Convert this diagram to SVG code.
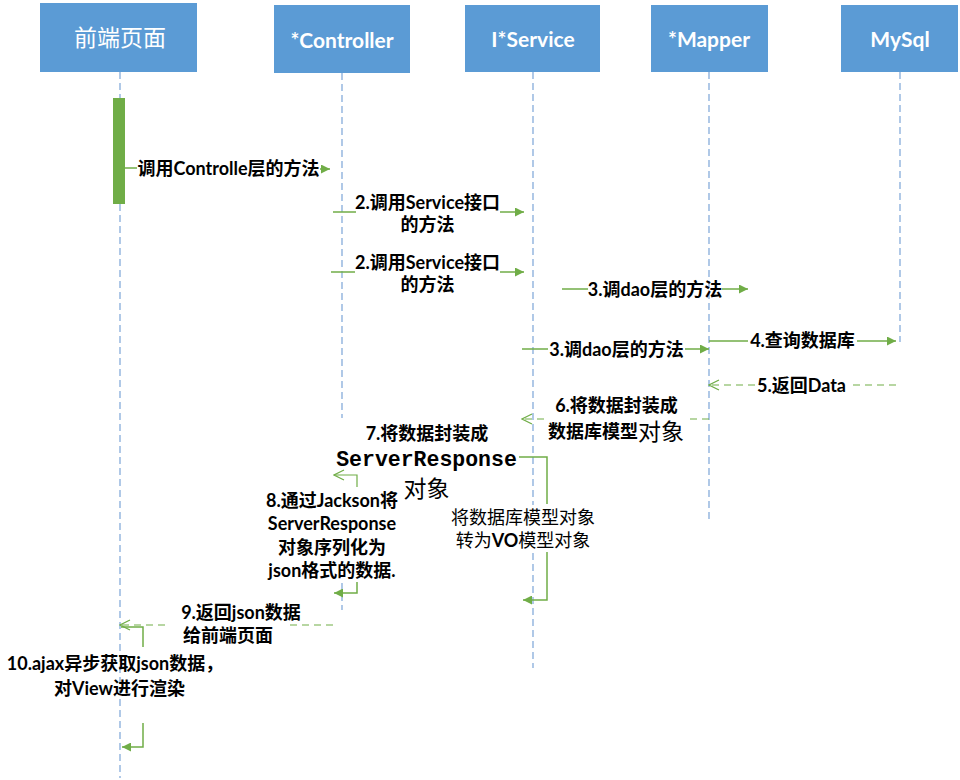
<svg xmlns="http://www.w3.org/2000/svg" width="960" height="780" viewBox="0 0 960 780">
<style>
.box{fill:#5b9bd5;}
.hdr{font-family:"Lato","Noto Sans CJK SC",sans-serif;font-size:21px;font-weight:bold;fill:#ffffff;text-anchor:middle;dominant-baseline:central;}
.life{stroke:#86acdb;stroke-width:1.3;stroke-dasharray:7 4;fill:none;}
.msg{stroke:#70ad47;stroke-width:1.5;fill:none;}
.ret{stroke:#70ad47;stroke-width:1.2;fill:none;stroke-dasharray:7 5;}
.lbl{font-family:"Lato","Noto Sans CJK SC",sans-serif;font-weight:bold;font-size:18px;fill:#000;text-anchor:middle;dominant-baseline:central;}
.big{font-weight:normal;font-size:23px;}
.reg{font-weight:normal;}
.mono{font-family:"Liberation Mono","DejaVu Sans Mono",monospace;font-weight:bold;font-size:21.5px;}
</style>
<defs>
<marker id="fa" viewBox="0 0 10 10" refX="10" refY="5" markerWidth="11" markerHeight="9" markerUnits="userSpaceOnUse" orient="auto">
<path d="M0,0 L10,5 L0,10 z" fill="#70ad47"/>
</marker>
<marker id="oa" viewBox="0 0 12 12" refX="11" refY="6" markerWidth="12" markerHeight="12" markerUnits="userSpaceOnUse" orient="auto">
<path d="M1,1 L11,6 L1,11" fill="none" stroke="#70ad47" stroke-width="1.2"/>
</marker>
</defs>
<rect width="960" height="780" fill="#ffffff"/>

<g id="frontend">
<rect class="box" x="40" y="3" width="157" height="69"/>
<text class="hdr" x="120" y="37" style="font-size:23px;font-weight:normal">前端页面</text>
</g>
<g id="controller">
<rect class="box" x="274" y="5" width="136" height="68"/>
<text class="hdr" x="342" y="39">*Controller</text>
</g>
<g id="service">
<rect class="box" x="465" y="5" width="135" height="67"/>
<text class="hdr" x="533" y="38">I*Service</text>
</g>
<g id="mapper">
<rect class="box" x="651" y="5" width="117" height="67"/>
<text class="hdr" x="709" y="38">*Mapper</text>
</g>
<g id="mysql">
<rect class="box" x="841" y="5" width="117" height="67"/>
<text class="hdr" x="900" y="38">MySql</text>
</g>

<g id="lifelines">
<line class="life" x1="120" y1="72" x2="120" y2="778"/>
<line class="life" x1="342" y1="73" x2="342" y2="418"/>
<line class="life" x1="342" y1="583" x2="342" y2="610"/>
<line class="life" x1="533" y1="72" x2="533" y2="505"/>
<line class="life" x1="533" y1="553" x2="533" y2="668"/>
<line class="life" x1="709" y1="72" x2="709" y2="520"/>
<line class="life" x1="900" y1="72" x2="900" y2="342"/>
</g>

<g id="activation">
<rect x="113" y="98" width="12" height="106" fill="#70ad47"/>
</g>

<g id="connectors">
<line class="msg" x1="125" y1="168" x2="137" y2="168"/>
<line class="msg" x1="320" y1="169" x2="330" y2="169" marker-end="url(#fa)"/>
<line class="msg" x1="333" y1="212" x2="356" y2="212"/>
<line class="msg" x1="500" y1="212" x2="524" y2="212" marker-end="url(#fa)"/>
<line class="msg" x1="331" y1="272" x2="355" y2="272"/>
<line class="msg" x1="500" y1="272" x2="524" y2="272" marker-end="url(#fa)"/>
<line class="msg" x1="562" y1="289" x2="588" y2="289"/>
<line class="msg" x1="722" y1="289" x2="748" y2="289" marker-end="url(#fa)"/>
<line class="msg" x1="522" y1="349" x2="548" y2="349"/>
<line class="msg" x1="685" y1="349" x2="709" y2="349" marker-end="url(#fa)"/>
<line class="msg" x1="709" y1="341" x2="748" y2="341"/>
<line class="msg" x1="857" y1="341" x2="896" y2="341" marker-end="url(#fa)"/>
<line class="ret" x1="896" y1="385" x2="848" y2="385"/>
<line class="ret" x1="755" y1="385" x2="709" y2="385" marker-end="url(#oa)"/>
<line class="ret" x1="709" y1="419" x2="690" y2="419"/>
<line class="ret" x1="544" y1="419" x2="522" y2="419" marker-end="url(#oa)"/>
<polyline class="msg" style="stroke-width:1.2" points="357,487 357,475 334,475" marker-end="url(#oa)"/>
<polyline class="msg" points="519,457 547,457 547,504"/>
<polyline class="msg" points="547,552 547,600 523,600" marker-end="url(#fa)"/>
<polyline class="msg" points="357,582 357,593 334,593" marker-end="url(#fa)"/>
<line class="ret" x1="333" y1="625" x2="288" y2="625"/>
<line class="ret" x1="165" y1="625" x2="120" y2="625" marker-end="url(#oa)"/>
<polyline class="msg" points="121,627 143,627 143,647"/>
<polyline class="msg" points="143,723 143,747 122,747" marker-end="url(#fa)"/>
</g>

<g id="labels">
<text class="lbl" x="228.5" y="168">调用Controlle层的方法</text>
<text class="lbl" x="427.5" y="201.5">2.调用Service接口</text>
<text class="lbl" x="427.5" y="223.5">的方法</text>
<text class="lbl" x="427.5" y="261.5">2.调用Service接口</text>
<text class="lbl" x="427.5" y="284">的方法</text>
<text class="lbl" x="655" y="289">3.调dao层的方法</text>
<text class="lbl" x="616.5" y="349">3.调dao层的方法</text>
<text class="lbl" x="802.5" y="340">4.查询数据库</text>
<text class="lbl" x="801.5" y="385">5.返回Data</text>
<text class="lbl" x="616.5" y="405">6.将数据封装成</text>
<text class="lbl" x="616" y="431">数据库模型<tspan class="big">对象</tspan></text>
<text class="lbl" x="427" y="433">7.将数据封装成</text>
<text class="lbl mono" x="426.5" y="460">ServerResponse</text>
<text class="lbl big" x="426.5" y="488">对象</text>
<text class="lbl reg" x="523" y="517">将数据库模型对象</text>
<text class="lbl reg" x="523" y="540">转为<tspan style="font-weight:bold">VO</tspan>模型对象</text>
<text class="lbl" x="332" y="500">8.通过Jackson将</text>
<text class="lbl" x="332" y="523">ServerResponse</text>
<text class="lbl" x="332" y="547">对象序列化为</text>
<text class="lbl" x="332" y="570">json格式的数据.</text>
<text class="lbl" x="241" y="612">9.返回json数据</text>
<text class="lbl" x="228" y="635">给前端页面</text>
<text class="lbl" x="115" y="663">10.ajax异步获取json数据，</text>
<text class="lbl" x="119.5" y="688">对View进行渲染</text>
</g>
</svg>
